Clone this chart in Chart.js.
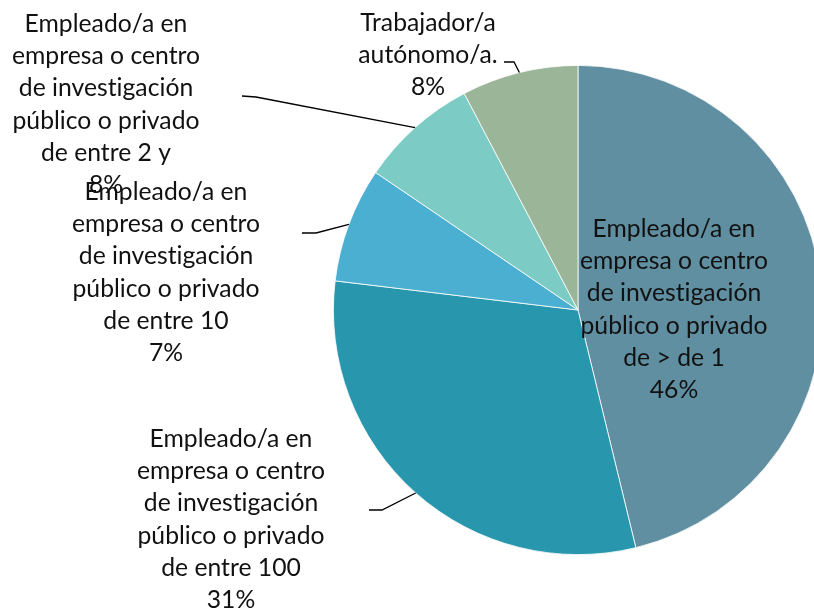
<!DOCTYPE html>
<html>
<head>
<meta charset="utf-8">
<script src="https://cdn.jsdelivr.net/npm/chart.js@4/dist/chart.umd.min.js"></script>
<style>
html,body{margin:0;padding:0;background:#fff;overflow:hidden;}
#wrap{width:840px;height:614px;position:relative;}
</style>
</head>
<body>
<div id="wrap"><canvas id="c" width="840" height="614"></canvas></div>
<script>
// ---- data ----
const categories = [
  "Empleado/a en empresa o centro de investigación público o privado de > de 1",
  "Empleado/a en empresa o centro de investigación público o privado de entre 100",
  "Empleado/a en empresa o centro de investigación público o privado de entre 10",
  "Empleado/a en empresa o centro de investigación público o privado de entre 2 y",
  "Trabajador/a autónomo/a."
];
const values = [46.2, 30.7, 7.6, 7.8, 7.7];
const labelLines = [
  ["Empleado/a en","empresa o centro","de investigación","público o privado","de > de 1"],
  ["Empleado/a en","empresa o centro","de investigación","público o privado","de entre 100"],
  ["Empleado/a en","empresa o centro","de investigación","público o privado","de entre 10"],
  ["Empleado/a en","empresa o centro","de investigación","público o privado","de entre 2 y"],
  ["Trabajador/a","autónomo/a."]
];
const percentLabels = ["46%","31%","7%","8%","8%"];
const colors = ["#5F8FA0","#2896AD","#4BAFD1","#7CCBC4","#9AB597"];

// ---- label layout (positions) ----
const labelLayout = [
  {x:674, y:237, line:null},
  {x:231, y:447, line:[[369,510],[382,510]]},
  {x:166, y:200, line:[[302,233],[316,233]]},
  {x:106, y:32,  line:[[242,96],[256,97]]},
  {x:428, y:31,  line:[[504,62],[514,62]]}
];
const lineStep = 32.2;

const labelPlugin = {
  id:'sliceLabels',
  afterDatasetsDraw(chart){
    const ctx = chart.ctx;
    const meta = chart.getDatasetMeta(0);
    ctx.save();
    if ('letterSpacing' in ctx) ctx.letterSpacing = '0.01px';
    ctx.font = '100px Lato';
    const w100 = ctx.measureText('empresa o centro').width;
    const fs = 100*188/w100;
    // leader lines
    ctx.strokeStyle = '#000';
    ctx.lineWidth = 1.3;
    meta.data.forEach((arc,i)=>{
      const L = labelLayout[i];
      if(!L.line) return;
      const p = arc.getProps(['x','y','startAngle','endAngle','outerRadius'], true);
      const mid = (p.startAngle+p.endAngle)/2;
      const ex = p.x + Math.cos(mid)*p.outerRadius;
      const ey = p.y + Math.sin(mid)*p.outerRadius;
      ctx.beginPath();
      ctx.moveTo(L.line[0][0], L.line[0][1]);
      ctx.lineTo(L.line[1][0], L.line[1][1]);
      ctx.lineTo(ex, ey);
      ctx.stroke();
    });
    // text
    ctx.fillStyle = '#111';
    ctx.font = fs.toFixed(2)+'px Lato';
    ctx.textAlign = 'center';
    ctx.textBaseline = 'alphabetic';
    const order = [3,2,1,4,0];
    order.forEach(i=>{
      const L = labelLayout[i];
      const lines = labelLines[i].concat([percentLabels[i]]);
      lines.forEach((t,k)=>{
        ctx.fillText(t, L.x, L.y + k*lineStep);
      });
    });
    ctx.restore();
  }
};

new Chart(document.getElementById('c'), {
  type:'pie',
  data:{
    labels: categories,
    datasets:[{
      data: values,
      backgroundColor: colors,
      borderColor: '#ffffff',
      borderWidth: 0.8
    }]
  },
  options:{
    responsive:false,
    animation:false,
    layout:{padding:{left:333,right:17,top:65,bottom:59}},
    plugins:{legend:{display:false},tooltip:{enabled:false},title:{display:false}}
  },
  plugins:[labelPlugin]
});
</script>
</body>
</html>
